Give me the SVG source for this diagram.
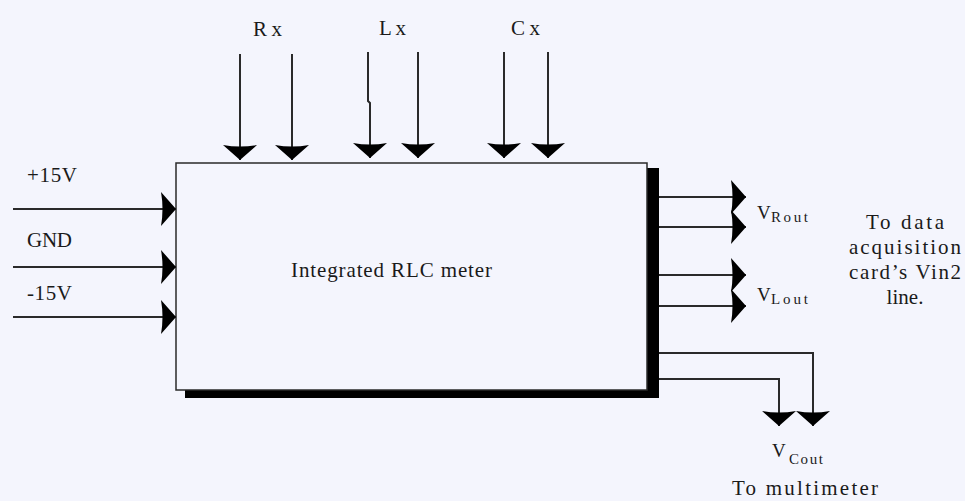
<svg xmlns="http://www.w3.org/2000/svg" width="965" height="501" viewBox="0 0 965 501">
<style>
  text { font-family: "Liberation Serif", "DejaVu Serif", "Times New Roman", serif; fill: #1a1a1a; }
  .lbl { font-size: 21px; }
  .sub { font-size: 15px; }
  .wire { fill: none; stroke: #2a2a2a; stroke-width: 2; marker-end: url(#ah); }
</style>
<defs>
  <marker id="ah" viewBox="0 0 15 34" refX="15" refY="17" markerWidth="15" markerHeight="34" markerUnits="userSpaceOnUse" orient="auto">
    <path d="M0,0 L15,17 L0,34 Q3,17 0,0 Z" fill="#000"/>
  </marker>
</defs>
<rect width="965" height="501" fill="#f4f5fd"/>

<g id="meter">
  <rect x="185" y="168" width="474" height="230" fill="#000"/>
  <rect x="176" y="163" width="471" height="227" fill="#f4f5fd" stroke="#2a2a2a" stroke-width="1.5"/>
  <text class="lbl" x="291" y="277" textLength="201" lengthAdjust="spacing">Integrated RLC meter</text>
</g>

<g id="connectors">
  <path class="wire" d="M240,54 V160"/>
  <path class="wire" d="M292,54 V160"/>
  <path class="wire" d="M368,52 V101 L370,103 V158"/>
  <path class="wire" d="M418,52 V158"/>
  <path class="wire" d="M504,52 V158"/>
  <path class="wire" d="M548,52 V158"/>
  <path class="wire" d="M13,209 H176"/>
  <path class="wire" d="M13,267 H176"/>
  <path class="wire" d="M13,317 H176"/>
  <path class="wire" d="M659,197 H746"/>
  <path class="wire" d="M659,227 H746"/>
  <path class="wire" d="M659,275 H746"/>
  <path class="wire" d="M659,306 H746"/>
  <path class="wire" d="M659,353 H813 V426"/>
  <path class="wire" d="M659,379 H779 V426"/>
</g>

<g id="label-rx"><text class="lbl" x="253" y="36" textLength="29" lengthAdjust="spacing">Rx</text></g>
<g id="label-lx"><text class="lbl" x="379" y="35" textLength="27" lengthAdjust="spacing">Lx</text></g>
<g id="label-cx"><text class="lbl" x="511" y="35" textLength="29" lengthAdjust="spacing">Cx</text></g>
<g id="label-p15"><text class="lbl" x="27" y="182" textLength="50" lengthAdjust="spacing">+15V</text></g>
<g id="label-gnd"><text class="lbl" x="27" y="247" textLength="45" lengthAdjust="spacing">GND</text></g>
<g id="label-m15"><text class="lbl" x="27" y="300" textLength="45" lengthAdjust="spacing">-15V</text></g>

<g id="label-vrout"><text x="757" y="219" font-size="19">V</text><text class="sub" x="771" y="222" textLength="37" lengthAdjust="spacing">Rout</text></g>
<g id="label-vlout"><text x="757" y="301" font-size="19">V</text><text class="sub" x="771" y="304" textLength="37" lengthAdjust="spacing">Lout</text></g>
<g id="label-vcout"><text x="772" y="457" font-size="19">V</text><text class="sub" x="789" y="464" textLength="34" lengthAdjust="spacing">Cout</text></g>
<g id="label-multimeter"><text class="lbl" x="732" y="495" textLength="146" lengthAdjust="spacing">To multimeter</text></g>

<g id="label-daq">
  <text class="lbl" x="905" y="229" text-anchor="middle" textLength="78" lengthAdjust="spacing">To data</text>
  <text class="lbl" x="905" y="254" text-anchor="middle" textLength="112" lengthAdjust="spacing">acquisition</text>
  <text class="lbl" x="905" y="279" text-anchor="middle" textLength="112" lengthAdjust="spacing">card’s Vin2</text>
  <text class="lbl" x="905" y="304" text-anchor="middle" textLength="37" lengthAdjust="spacing">line.</text>
</g>
</svg>
